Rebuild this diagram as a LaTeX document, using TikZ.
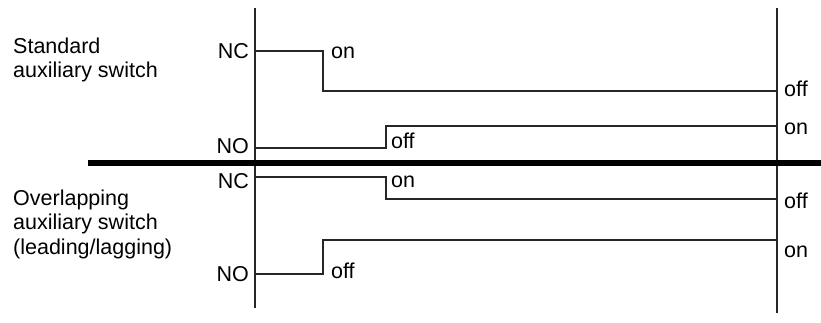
\documentclass[tikz,border=0pt]{standalone}
\usepackage{fontspec}
\setmainfont{Liberation Sans}
\usepackage{tikz}
\usetikzlibrary{positioning, calc}

\begin{document}
\begin{tikzpicture}[x=1pt, y=-1pt,
        axis/.style={line width=1.4pt, black!85},
        sig/.style={line width=1.4pt, black!85},
        sep/.style={line width=6pt, black},
        lbl/.style={inner sep=0pt, font=\fontsize{21.5}{24.5}\selectfont},
        group/.style={lbl, align=left, anchor=north west}
      ]
      \useasboundingbox (0,0) rectangle (821,323);

      % time axes and separator
      \coordinate (tTop) at (255,8);
      \coordinate (tBot) at (255,308);
      \coordinate (eTop) at (777,8);
      \coordinate (eBot) at (777,313);
      \coordinate (sepL) at (88,163);
      \coordinate (sepR) at (821,163);
      \draw[axis] (tTop) -- (tBot);
      \draw[axis] (eTop) -- (eBot);
      \draw[sep] (sepL) -- (sepR);

      % standard auxiliary switch
      \node[group] (std) at (13,37.4) {Standard\\auxiliary switch};
      \coordinate (sncA) at (255,51);
      \coordinate (sncB) at (323,91);
      \coordinate (sncC) at (777,91);
      \coordinate (snoA) at (255,148);
      \coordinate (snoB) at (386,126);
      \coordinate (snoC) at (777,126);
      \draw[sig] (sncA) -| (sncB) -- (sncC);
      \draw[sig] (snoA) -| (snoB) -- (snoC);
      \node[lbl, anchor=east] (sncL) at (249,51) {NC};
      \node[lbl, anchor=east] (snoL) at (249,146) {NO};
      \node[lbl, anchor=base west] (sncOn) at (331,59) {on};
      \node[lbl, anchor=base west] (snoOff) at (391,149) {off};
      \node[lbl, anchor=base west] (sncOff) at (784,97) {off};
      \node[lbl, anchor=base west] (snoOn) at (784,135) {on};

      % overlapping auxiliary switch
      \node[group] (ovl) at (13,189.6) {Overlapping\\auxiliary switch\\(leading/lagging)};
      \coordinate (oncA) at (255,177);
      \coordinate (oncB) at (386,199);
      \coordinate (oncC) at (777,199);
      \coordinate (onoA) at (255,274);
      \coordinate (onoB) at (323,240);
      \coordinate (onoC) at (777,240);
      \draw[sig] (oncA) -| (oncB) -- (oncC);
      \draw[sig] (onoA) -| (onoB) -- (onoC);
      \node[lbl, anchor=east] (oncL) at (249,181) {NC};
      \node[lbl, anchor=east] (onoL) at (249,274) {NO};
      \node[lbl, anchor=base west] (oncOn) at (391,188) {on};
      \node[lbl, anchor=base west] (onoOff) at (331,278) {off};
      \node[lbl, anchor=base west] (oncOff) at (784,208) {off};
      \node[lbl, anchor=base west] (onoOn) at (784,257) {on};
    \end{tikzpicture}
\end{document}
